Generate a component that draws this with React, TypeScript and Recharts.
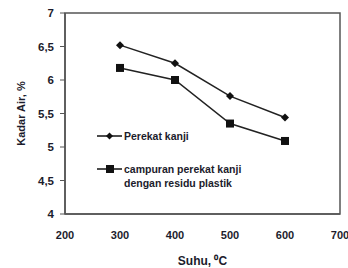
import React from 'react';
import { LineChart, Line, XAxis, YAxis, ReferenceArea } from 'recharts';

const suhu = [300, 400, 500, 600];
const perekatKanji = [6.52, 6.25, 5.76, 5.44];
const campuran = [6.18, 6.0, 5.35, 5.09];
const xTicks = [200, 300, 400, 500, 600, 700];
const yTicks = [4, 4.5, 5, 5.5, 6, 6.5, 7];

const data = suhu.map((s, i) => ({ suhu: s, a: perekatKanji[i], b: campuran[i] }));

const FONT = '"Liberation Sans", Arial, sans-serif';
const TXT = '#1c1c2c';

const Diamond = (props: any) => {
  const { cx, cy } = props;
  if (cx == null || cy == null) return null;
  return <path d={`M${cx},${cy - 4} L${cx + 4},${cy} L${cx},${cy + 4} L${cx - 4},${cy} Z`} fill="#111" />;
};
const Square = (props: any) => {
  const { cx, cy } = props;
  if (cx == null || cy == null) return null;
  return <rect x={cx - 4} y={cy - 4} width={8} height={8} fill="#111" />;
};

const LegendOverlay = () => (
  <svg width={200} height={70} style={{ position: 'absolute', left: 97, top: 129, overflow: 'visible' }}>
    <g fontFamily={FONT} fontWeight="bold" fontSize={10.5} fill={TXT}>
      <line x1={0} y1={7} x2={25} y2={7} stroke="#111" strokeWidth={1.5} />
      <path d="M12.5,3.5 L16,7 L12.5,10.5 L9,7 Z" fill="#111" />
      <text x={27} y={11}>Perekat kanji</text>
      <line x1={0} y1={40} x2={25} y2={40} stroke="#111" strokeWidth={1.5} />
      <rect x={9} y={36} width={8} height={8} fill="#111" />
      <text x={27} y={44}>campuran perekat  kanji</text>
      <text x={27} y={58}>dengan residu plastik</text>
    </g>
  </svg>
);

export default function App() {
  return (
    <div style={{ position: 'absolute', left: 0, top: 0, width: 348, height: 268, background: '#fff' }}>
      <LineChart width={348} height={268} data={data} margin={{ top: 13, right: 8, bottom: 0, left: 0 }}>
        <XAxis
          dataKey="suhu"
          type="number"
          domain={[200, 700]}
          ticks={xTicks}
          height={54}
          axisLine={{ stroke: '#555', strokeWidth: 1.5 }}
          tickLine={false}
          tick={{ fill: TXT, fontSize: 11, fontWeight: 'bold', fontFamily: FONT }}
          tickMargin={11}
          interval={0}
          label={{ value: 'Suhu, ⁰C', position: 'insideBottom', offset: 3, fill: TXT, fontSize: 12, fontWeight: 'bold', fontFamily: FONT }}
        />
        <YAxis
          type="number"
          domain={[4, 7]}
          ticks={yTicks}
          width={65}
          axisLine={{ stroke: '#555', strokeWidth: 1.5 }}
          tickLine={{ stroke: '#555' }}
          tickSize={5}
          tickMargin={6}
          interval={0}
          tickFormatter={(v: number) => String(v).replace('.', ',')}
          tick={{ fill: TXT, fontSize: 11.5, fontWeight: 'bold', fontFamily: FONT }}
          label={{ value: 'Kadar Air, %', angle: -90, position: 'insideLeft', offset: 21, fill: TXT, fontSize: 11, fontWeight: 'bold', fontFamily: FONT, style: { textAnchor: 'middle' } }}
        />
        <ReferenceArea x1={200} x2={700} y1={4} y2={7} fill="none" stroke="#555" strokeWidth={1.5} ifOverflow="visible" />
        <Line dataKey="a" stroke="#222" strokeWidth={1.5} dot={<Diamond />} isAnimationActive={false} />
        <Line dataKey="b" stroke="#222" strokeWidth={1.5} dot={<Square />} isAnimationActive={false} />
      </LineChart>
      <LegendOverlay />
    </div>
  );
}
